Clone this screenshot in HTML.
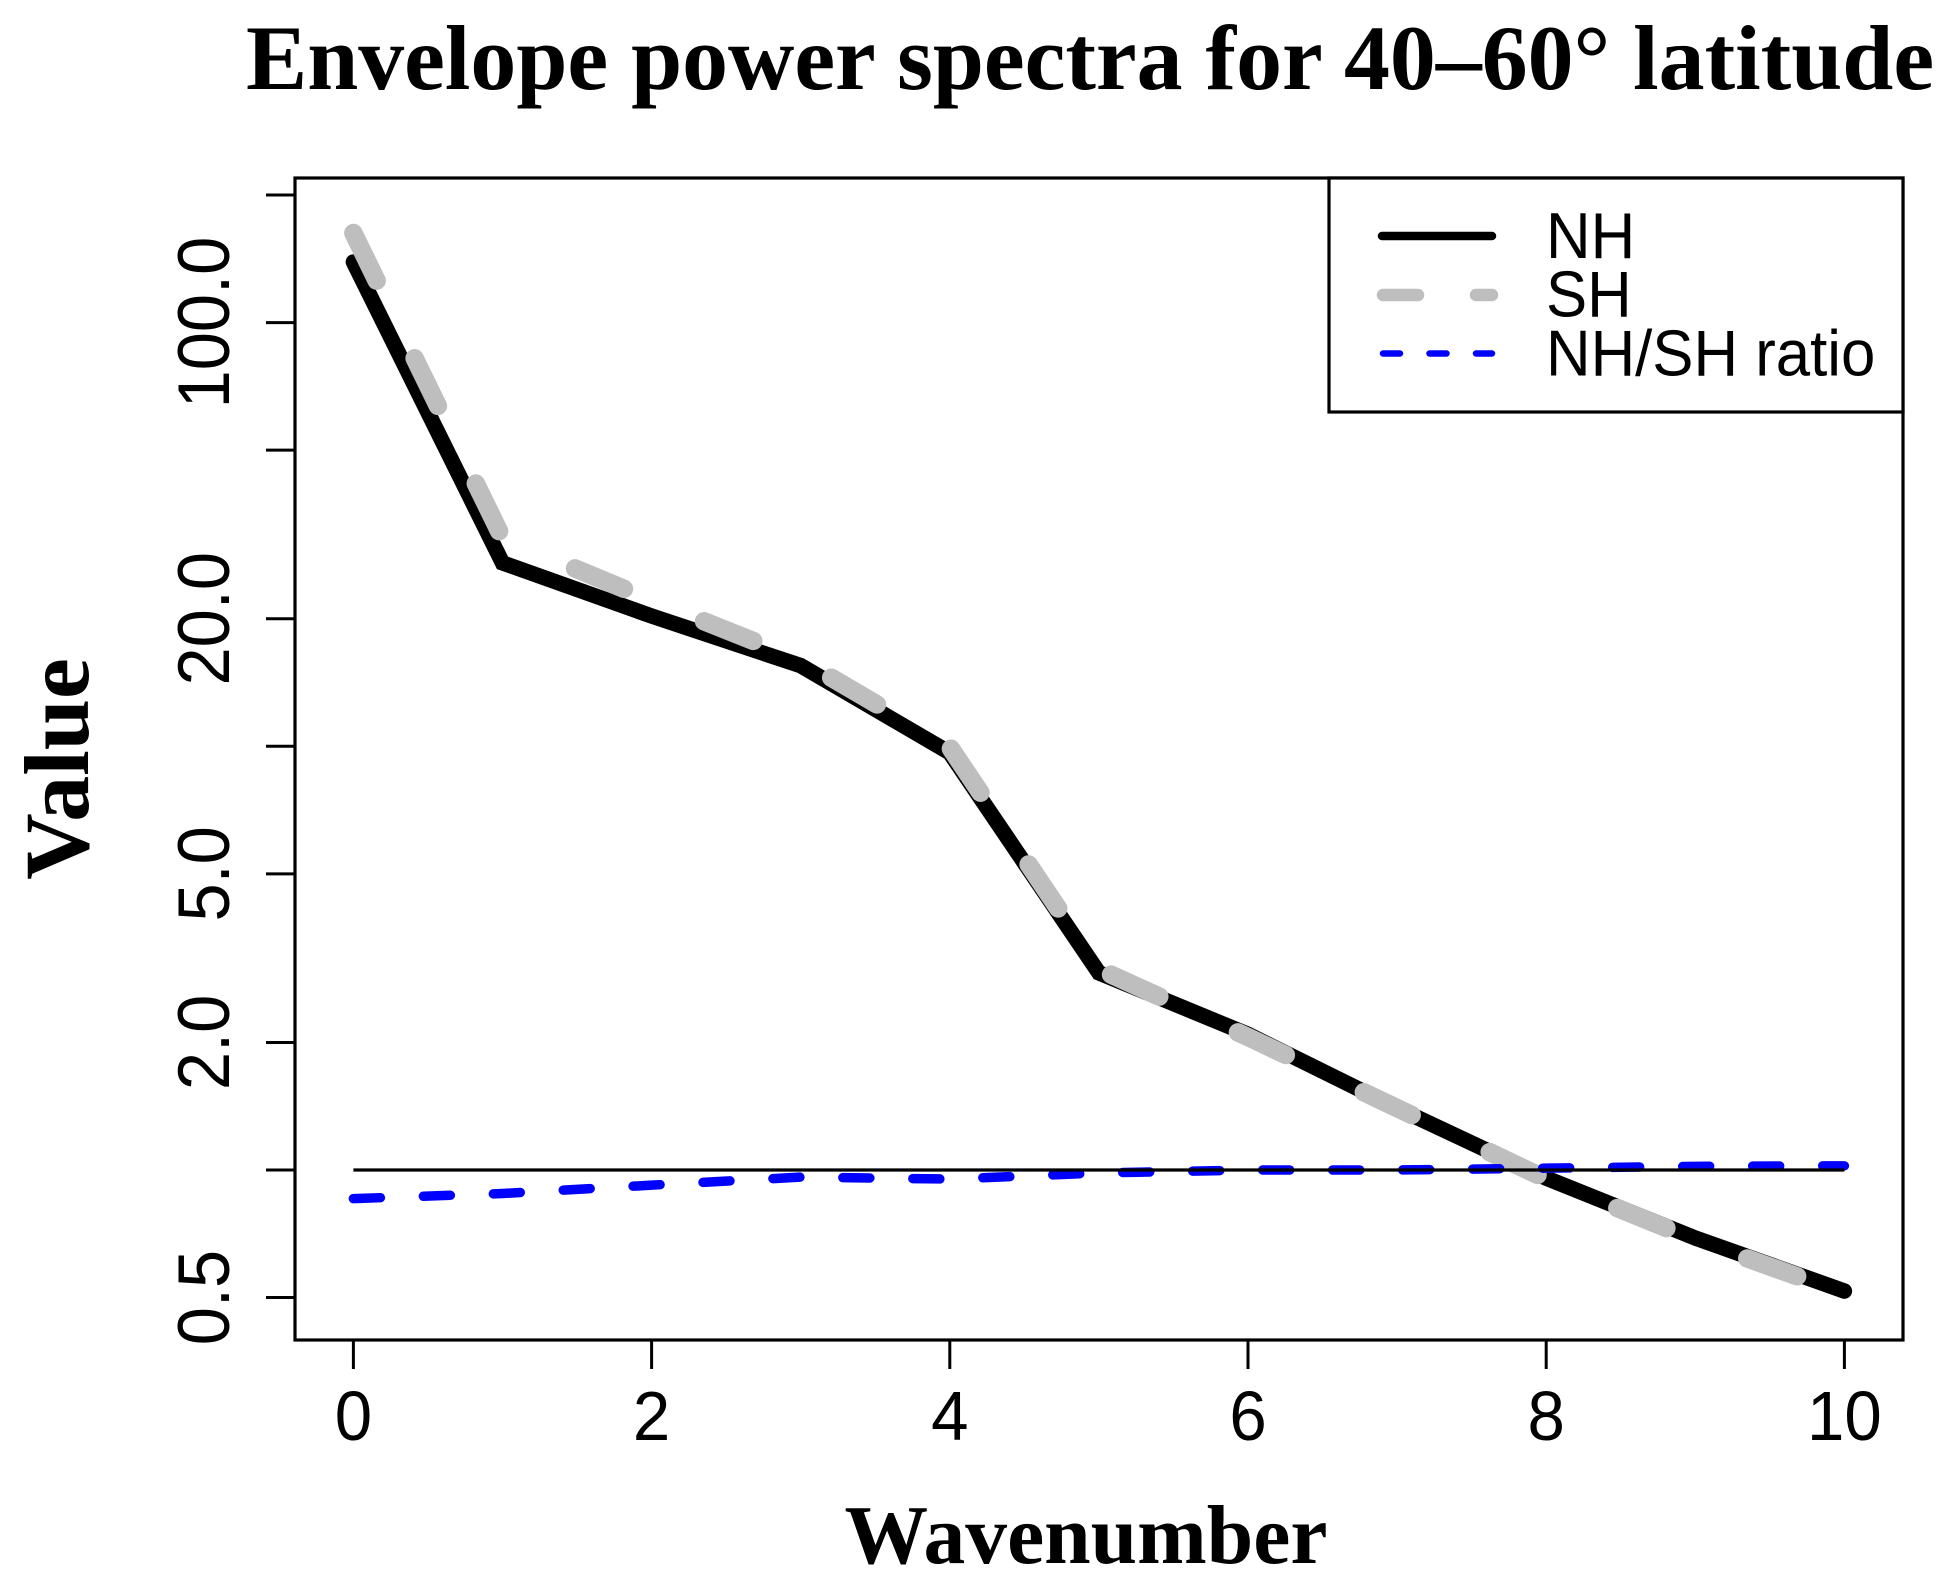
<!DOCTYPE html>
<html lang="en">
<head>
<meta charset="utf-8">
<title>Envelope power spectra for 40–60° latitude</title>
<style>
html,body{margin:0;padding:0;background:#fff;}
svg{display:block;}
.sans{font-family:"Liberation Sans",sans-serif;fill:#000;}
.serif{font-family:"Liberation Serif",serif;font-weight:bold;fill:#000;}
</style>
</head>
<body>
<svg id="chart" xmlns="http://www.w3.org/2000/svg" width="1957" height="1589" viewBox="0 0 1957 1589">
  <rect x="0" y="0" width="1957" height="1589" fill="#fff"/>
  <text class="serif" x="246" y="89" font-size="91.8">Envelope power spectra for 40–60° latitude</text>
  <text class="serif" x="1086" y="1563" font-size="83.6" text-anchor="middle">Wavenumber</text>
  <text class="serif" transform="translate(88 769) rotate(-90)" font-size="92" text-anchor="middle">Value</text>
  <g id="series"></g>
  <g id="axes"></g>
  <rect x="295" y="178" width="1608" height="1162" fill="none" stroke="#000" stroke-width="3.2"/>
  <g>
    <rect x="1329" y="178" width="574" height="234" fill="#fff" stroke="#000" stroke-width="3.2"/>
    <line x1="1382" y1="236" x2="1492" y2="236" stroke="#000" stroke-width="8.5" stroke-linecap="round"/>
    <line x1="1383" y1="295" x2="1492" y2="295" stroke="#bebebe" stroke-width="12.5" stroke-linecap="round" stroke-dasharray="35 58"/>
    <line x1="1383" y1="353.5" x2="1492" y2="353.5" stroke="#0000ff" stroke-width="6.5" stroke-linecap="round" stroke-dasharray="17 29.5"/>
    <text class="sans" transform="translate(1546 258) scale(0.95 1)" font-size="65">NH</text>
    <text class="sans" transform="translate(1546 316.5) scale(0.95 1)" font-size="65">SH</text>
    <text class="sans" transform="translate(1546 375.5) scale(0.95 1)" font-size="65">NH/SH ratio</text>
  </g>
</svg>
<script>
var wavenumbers = [0, 1, 2, 3, 4, 5, 6, 7, 8, 9, 10];
var nhValues = [139, 27.1, 20.3, 15.5, 9.65, 2.92, 2.09, 1.40, 0.957, 0.691, 0.518];
var shValues = [162.7, 31.0, 22.1, 16.0, 9.96, 2.98, 2.06, 1.40, 0.952, 0.684, 0.512];
var ratioValues = [0.856, 0.880, 0.921, 0.962, 0.952, 0.984, 1.0, 1.0, 1.01, 1.02, 1.023];
var referenceValue = 1;
var xTickValues = [0, 2, 4, 6, 8, 10];
var xTickLabels = ["0", "2", "4", "6", "8", "10"];
var yTickValues = [0.5, 1, 2, 5, 10, 20, 50, 100, 200];
var yTickLabels = ["0.5", "", "2.0", "5.0", "", "20.0", "", "100.0", ""];

var SVG_NS = "http://www.w3.org/2000/svg";
var seriesLayer = document.getElementById("series");
var axesLayer = document.getElementById("axes");

function xScale(v) { return 353.4 + 149.1 * v; }
function yScale(v) { return 1170 - 423.7 * Math.log10(v); }

function pointsFor(values) {
  return values.map(function (v, i) {
    return xScale(wavenumbers[i]).toFixed(2) + "," + yScale(v).toFixed(2);
  }).join(" ");
}

var nhLine = document.createElementNS(SVG_NS, "polyline");


nhLine.setAttribute("points", pointsFor(nhValues));
nhLine.setAttribute("fill", "none");
nhLine.setAttribute("stroke", "#000");
nhLine.setAttribute("stroke-width", "15.5");
nhLine.setAttribute("stroke-linecap", "round");
nhLine.setAttribute("stroke-linejoin", "miter");
seriesLayer.appendChild(nhLine);

var shLine = document.createElementNS(SVG_NS, "polyline");


shLine.setAttribute("points", pointsFor(shValues));
shLine.setAttribute("fill", "none");
shLine.setAttribute("stroke", "#bebebe");
shLine.setAttribute("stroke-width", "18.5");
shLine.setAttribute("stroke-linecap", "round");
shLine.setAttribute("stroke-linejoin", "round");
shLine.setAttribute("stroke-dasharray", "53 86.4");
seriesLayer.appendChild(shLine);

var ratioLine = document.createElementNS(SVG_NS, "polyline");


ratioLine.setAttribute("points", pointsFor(ratioValues));
ratioLine.setAttribute("fill", "none");
ratioLine.setAttribute("stroke", "#0000ff");
ratioLine.setAttribute("stroke-width", "9.5");
ratioLine.setAttribute("stroke-linecap", "round");
ratioLine.setAttribute("stroke-linejoin", "round");
ratioLine.setAttribute("stroke-dasharray", "27 43");
seriesLayer.appendChild(ratioLine);

var refLine = document.createElementNS(SVG_NS, "line");


refLine.setAttribute("x1", xScale(wavenumbers[0]));
refLine.setAttribute("x2", xScale(wavenumbers[wavenumbers.length - 1]));
refLine.setAttribute("y1", yScale(referenceValue));
refLine.setAttribute("y2", yScale(referenceValue));
refLine.setAttribute("stroke", "#000");
refLine.setAttribute("stroke-width", "3.2");
seriesLayer.appendChild(refLine);

xTickValues.forEach(function (v, i) {
  var tick = document.createElementNS(SVG_NS, "line");
  
  
  tick.setAttribute("x1", xScale(v));
  tick.setAttribute("x2", xScale(v));
  tick.setAttribute("y1", 1340);
  tick.setAttribute("y2", 1369);
  tick.setAttribute("stroke", "#000");
  tick.setAttribute("stroke-width", "3");
  axesLayer.appendChild(tick);

  var label = document.createElementNS(SVG_NS, "text");
  
  
  label.setAttribute("class", "sans");
  label.setAttribute("transform", "translate(" + xScale(v) + " 1440) scale(0.96 1)");
  label.setAttribute("font-size", "70");
  label.setAttribute("text-anchor", "middle");
  label.textContent = xTickLabels[i];
  axesLayer.appendChild(label);
});

yTickValues.forEach(function (v, i) {
  var tick = document.createElementNS(SVG_NS, "line");
  
  
  tick.setAttribute("x1", 266);
  tick.setAttribute("x2", 295);
  tick.setAttribute("y1", yScale(v));
  tick.setAttribute("y2", yScale(v));
  tick.setAttribute("stroke", "#000");
  tick.setAttribute("stroke-width", "3");
  axesLayer.appendChild(tick);

  if (yTickLabels[i]) {
    var label = document.createElementNS(SVG_NS, "text");
    
    
    label.setAttribute("class", "sans");
    label.setAttribute("transform", "translate(229 " + yScale(v) + ") rotate(-90) scale(0.98 1.05)");
    label.setAttribute("font-size", "70");
    label.setAttribute("text-anchor", "middle");
    label.textContent = yTickLabels[i];
    axesLayer.appendChild(label);
  }
});
</script>
</body>
</html>
